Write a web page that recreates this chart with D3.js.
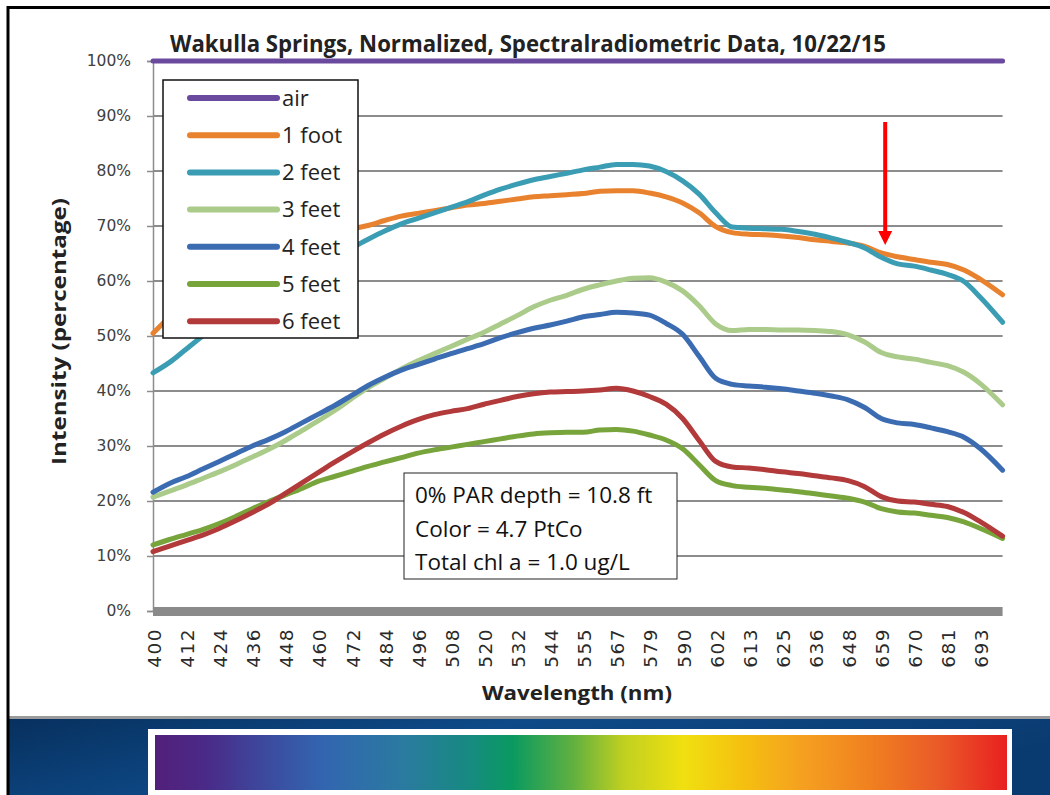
<!DOCTYPE html>
<html>
<head>
<meta charset="utf-8">
<script src="https://cdn.jsdelivr.net/npm/d3@7"></script>
<style>
  html, body { margin: 0; padding: 0; background: #fff; }
  svg { display: block; }
</style>
</head>
<body>
<div class="chart"></div>
<script>
// tick labels shown on the category axis (nm)
const tickLabels = [400, 412, 424, 436, 448, 460, 472, 484, 496, 508, 520, 532, 544,
  555, 567, 579, 590, 602, 613, 625, 636, 648, 659, 670, 681, 693];

// sample wavelengths the curves were read at
const wavelengths = [400, 406, 412, 418, 424, 430, 436, 442, 448, 454, 460, 466, 472, 478,
  484, 490, 496, 502, 508, 514, 520, 526, 532, 538, 544, 549.5, 555, 561, 567, 573, 579,
  584.5, 590, 596, 602, 607.5, 613, 619, 625, 630.5, 636, 642, 648, 653.5, 659, 664.5,
  670, 675.5, 681, 687, 693, 701];

const seriesNames = ['air', '1 foot', '2 feet', '3 feet', '4 feet', '5 feet', '6 feet'];
const seriesColors = ['#6a4a9e', '#e8822e', '#3a9db4', '#abcb8a', '#3b6cb2', '#78a43c', '#b23a3a'];

const air = [100, 100, 100, 100, 100, 100, 100, 100, 100, 100, 100, 100, 100, 100, 100, 100,
  100, 100, 100, 100, 100, 100, 100, 100, 100, 100, 100, 100, 100, 100, 100, 100, 100, 100,
  100, 100, 100, 100, 100, 100, 100, 100, 100, 100, 100, 100, 100, 100, 100, 100, 100, 100];
const foot1 = [50.5, 53.5, 56.5, 59, 61, 62.8, 64.3, 65.6, 66.7, 67.6, 68.4, 69, 69.5, 70.1,
  71, 71.8, 72.3, 72.8, 73.3, 73.8, 74.1, 74.5, 74.9, 75.3, 75.5, 75.7, 75.9, 76.3, 76.4,
  76.4, 76, 75.3, 74.2, 72.4, 69.9, 68.8, 68.5, 68.4, 68.2, 67.9, 67.5, 67.2, 66.9, 66.3,
  65.1, 64.4, 63.9, 63.4, 63, 62, 60.3, 57.5];
const feet2 = [43.3, 45.2, 47.6, 50, 52.3, 54.5, 56.5, 58.3, 60, 61.6, 63, 64.5, 66, 67.6,
  69.1, 70.4, 71.4, 72.4, 73.4, 74.4, 75.6, 76.7, 77.6, 78.4, 79, 79.6, 80.2, 80.7, 81.2,
  81.2, 80.9, 79.9, 78.2, 75.8, 72.4, 69.8, 69.6, 69.5, 69.4, 69, 68.5, 67.8, 67, 66,
  64.3, 63.1, 62.7, 62, 61.2, 59.9, 57, 52.5];
const feet3 = [20.7, 21.8, 22.9, 24.1, 25.3, 26.6, 28, 29.4, 31, 32.8, 34.6, 36.5, 38.6, 40.6,
  42.3, 44, 45.5, 46.8, 48.1, 49.4, 50.7, 52.2, 53.7, 55.3, 56.5, 57.4, 58.5, 59.3, 60,
  60.5, 60.6, 59.8, 58.2, 55.5, 52.2, 51, 51.2, 51.2, 51.1, 51.1, 51, 50.8, 50.2, 48.9,
  47, 46.2, 45.8, 45.2, 44.6, 43.4, 41.3, 37.5];
const feet4 = [21.6, 23.2, 24.4, 25.8, 27.2, 28.6, 30, 31.2, 32.6, 34.2, 35.8, 37.4, 39.2, 41,
  42.5, 43.8, 44.8, 45.8, 46.8, 47.7, 48.6, 49.7, 50.6, 51.4, 52, 52.7, 53.5, 53.9, 54.3,
  54.2, 53.8, 52.3, 50.3, 46.3, 42.3, 41.2, 40.9, 40.7, 40.4, 40, 39.6, 39.1, 38.4, 37,
  35, 34.2, 33.9, 33.3, 32.6, 31.6, 29.5, 25.6];
const feet5 = [12, 13, 13.9, 14.8, 15.9, 17.2, 18.6, 19.9, 21.1, 22.3, 23.6, 24.5, 25.4, 26.3,
  27.1, 27.9, 28.7, 29.3, 29.8, 30.3, 30.8, 31.3, 31.8, 32.2, 32.4, 32.5, 32.5, 32.9, 33,
  32.7, 32, 31.1, 29.5, 26.6, 23.7, 22.8, 22.5, 22.3, 22, 21.7, 21.3, 20.9, 20.5, 19.8,
  18.6, 18, 17.8, 17.4, 17, 16.2, 15, 13.2];
const feet6 = [10.8, 11.8, 12.8, 13.8, 15, 16.4, 17.9, 19.5, 21.4, 23.3, 25.2, 27.1, 28.9,
  30.6, 32.2, 33.6, 34.8, 35.7, 36.3, 36.8, 37.6, 38.3, 39, 39.5, 39.8, 39.9, 40, 40.2,
  40.5, 40, 39, 37.6, 35, 31, 27.2, 26.2, 26, 25.7, 25.3, 25, 24.6, 24.2, 23.7, 22.6,
  20.8, 20, 19.8, 19.4, 19, 17.9, 16.2, 13.6];
const seriesValues = [air, foot1, feet2, feet3, feet4, feet5, feet6];

const yTicks = [0, 10, 20, 30, 40, 50, 60, 70, 80, 90, 100];
const noteLines = ['0% PAR depth = 10.8 ft', 'Color = 4.7 PtCo', 'Total chl a = 1.0 ug/L'];
const spectrumStops = [
  [0, '#52207a'], [0.06, '#4a2a88'], [0.13, '#3c4a9e'], [0.2, '#3266b0'], [0.29, '#2a7aa0'],
  [0.37, '#168a80'], [0.42, '#0a9a60'], [0.49, '#60b040'], [0.55, '#c0d020'], [0.62, '#f0e010'],
  [0.69, '#f5c010'], [0.76, '#f5a020'], [0.84, '#f08020'], [0.92, '#ea5a28'], [1, '#e82020']
];

const W = 1050, H = 795;
const plotLeft = 153, plotTop = 61, plotBottom = 611, step = 33.1;

const svg = d3.select('.chart').append('svg')
  .attr('width', W)
  .attr('height', H);

const defs = svg.append('defs');
const spec = defs.append('linearGradient').attr('id', 'spec');
spectrumStops.forEach(s => spec.append('stop').attr('offset', s[0]).attr('stop-color', s[1]));
const sky = defs.append('linearGradient').attr('id', 'sky')
  .attr('x1', 0).attr('y1', 0).attr('x2', 1).attr('y2', 0.3);
sky.append('stop').attr('offset', 0).attr('stop-color', '#07305e');
sky.append('stop').attr('offset', 0.45).attr('stop-color', '#0e4a88');
sky.append('stop').attr('offset', 1).attr('stop-color', '#0a3b70');

// slide background / frame
svg.append('rect').attr('x', 0).attr('y', 0).attr('width', W).attr('height', H).attr('fill', '#fff');
svg.append('rect').attr('x', 8).attr('y', 719).attr('width', W).attr('height', H - 719).attr('fill', 'url(#sky)');
svg.append('rect').attr('x', 9).attr('y', 716).attr('width', W).attr('height', 3).attr('fill', '#9a9a9a');
svg.append('line').attr('x1', 8).attr('x2', W).attr('y1', 7.5).attr('y2', 7.5)
  .attr('stroke', '#000').attr('stroke-width', 3);
svg.append('line').attr('x1', 8).attr('x2', 8).attr('y1', 6).attr('y2', H)
  .attr('stroke', '#000').attr('stroke-width', 3);

// spectrum strip
svg.append('rect').attr('x', 148).attr('y', 729).attr('width', 864).attr('height', 70).attr('fill', '#fff');
svg.append('rect').attr('x', 155).attr('y', 735).attr('width', 852).attr('height', 55).attr('fill', 'url(#spec)');

// scales
const x = d3.scaleLinear()
  .domain(tickLabels)
  .range(tickLabels.map((d, i) => plotLeft + i * step));
const plotRight = x(701);
const y = d3.scaleLinear().domain([0, 100]).range([plotBottom, plotTop]);

// gridlines
svg.append('g')
  .selectAll('line')
  .data(yTicks.filter(d => d > 0))
  .enter()
  .append('line')
  .attr('x1', plotLeft).attr('x2', plotRight)
  .attr('y1', d => y(d)).attr('y2', d => y(d))
  .attr('stroke', '#8c8c8c')
  .attr('stroke-width', 2);

// y axis
const yAxis = svg.append('g')
  .attr('transform', `translate(${plotLeft},0)`)
  .call(d3.axisLeft(y).tickValues(yTicks).tickFormat(d => d + '%').tickSize(6).tickPadding(16));
yAxis.select('.domain').attr('stroke', '#8c8c8c').attr('stroke-width', 1.5);
yAxis.selectAll('.tick line').attr('stroke', '#8c8c8c').attr('stroke-width', 1.5);
yAxis.selectAll('.tick text')
  .attr('font-family', 'DejaVu Sans, sans-serif')
  .attr('font-size', 15.5)
  .attr('fill', '#404040');

// x axis bar (thick grey category axis)
svg.append('rect')
  .attr('x', plotLeft).attr('y', plotBottom - 4)
  .attr('width', plotRight - plotLeft).attr('height', 9)
  .attr('fill', '#8a8a8a');

const xAxis = svg.append('g')
  .attr('transform', `translate(0,${plotBottom})`)
  .call(d3.axisBottom(x).tickValues(tickLabels).tickFormat(d3.format('d')).tickSize(0));
xAxis.select('.domain').remove();
xAxis.selectAll('.tick text')
  .attr('transform', 'rotate(-90)')
  .attr('x', -17)
  .attr('y', 1)
  .attr('dy', '0.35em')
  .attr('text-anchor', 'end')
  .attr('font-family', 'DejaVu Sans, sans-serif')
  .attr('font-size', 18.5)
  .attr('letter-spacing', 1.5)
  .attr('fill', '#2a2a2a');

// series lines
const line = d3.line()
  .x((d, i) => x(wavelengths[i]))
  .y(d => y(d))
  .curve(d3.curveMonotoneX);

svg.append('g')
  .selectAll('path')
  .data(seriesValues)
  .enter()
  .append('path')
  .attr('d', d => line(d))
  .attr('fill', 'none')
  .attr('stroke', (d, i) => seriesColors[i])
  .attr('stroke-width', 5)
  .attr('stroke-linecap', 'round')
  .attr('stroke-linejoin', 'round');

// titles
svg.append('text')
  .text('Wakulla Springs, Normalized, Spectralradiometric Data, 10/22/15')
  .attr('x', 170).attr('y', 52)
  .attr('textLength', 716)
  .attr('lengthAdjust', 'spacingAndGlyphs')
  .attr('font-family', 'Liberation Sans Narrow, Open Sans, sans-serif')
  .attr('font-weight', 'bold')
  .attr('font-size', 24)
  .attr('fill', '#222');

svg.append('text')
  .text('Intensity (percentage)')
  .attr('transform', 'translate(66,465) rotate(-90)')
  .attr('textLength', 267)
  .attr('lengthAdjust', 'spacingAndGlyphs')
  .attr('font-family', 'Open Sans, sans-serif')
  .attr('font-weight', 'bold')
  .attr('font-size', 19)
  .attr('fill', '#222');

svg.append('text')
  .text('Wavelength (nm)')
  .attr('x', 482).attr('y', 700)
  .attr('textLength', 190)
  .attr('lengthAdjust', 'spacingAndGlyphs')
  .attr('font-family', 'Open Sans, sans-serif')
  .attr('font-weight', 'bold')
  .attr('font-size', 20)
  .attr('fill', '#222');

// legend
const legend = svg.append('g').attr('transform', 'translate(163,80)');
legend.append('rect')
  .attr('width', 195).attr('height', 258)
  .attr('fill', '#fff')
  .attr('stroke', '#111')
  .attr('stroke-width', 1.5);
const items = legend.selectAll('g.item')
  .data(seriesNames)
  .enter()
  .append('g')
  .attr('class', 'item')
  .attr('transform', (d, i) => `translate(0,${18 + i * 37.2})`);
items.append('line')
  .attr('x1', 27).attr('x2', 114)
  .attr('stroke', (d, i) => seriesColors[i])
  .attr('stroke-width', 6)
  .attr('stroke-linecap', 'round');
items.append('text')
  .text(d => d)
  .attr('x', 119)
  .attr('dy', '0.35em')
  .attr('font-family', 'Open Sans, sans-serif')
  .attr('font-size', 22)
  .attr('fill', '#222');

// note box
const note = svg.append('g').attr('transform', 'translate(404,473)');
note.append('rect')
  .attr('width', 273).attr('height', 106)
  .attr('fill', '#fff')
  .attr('stroke', '#222')
  .attr('stroke-width', 1);
note.selectAll('text')
  .data(noteLines)
  .enter()
  .append('text')
  .text(d => d)
  .attr('x', 11)
  .attr('y', (d, i) => 30 + i * 33.5)
  .attr('font-family', 'Open Sans, sans-serif')
  .attr('font-size', 22.5)
  .attr('fill', '#111');

// red arrow marker
const arrowX = x(659) + 4;
svg.append('line')
  .attr('x1', arrowX).attr('x2', arrowX)
  .attr('y1', 122).attr('y2', 234)
  .attr('stroke', '#f00')
  .attr('stroke-width', 4);
svg.append('path')
  .attr('d', d3.line()([[arrowX - 7, 231], [arrowX + 7, 231], [arrowX, 245]]))
  .attr('fill', '#f00');
</script>
</body>
</html>
